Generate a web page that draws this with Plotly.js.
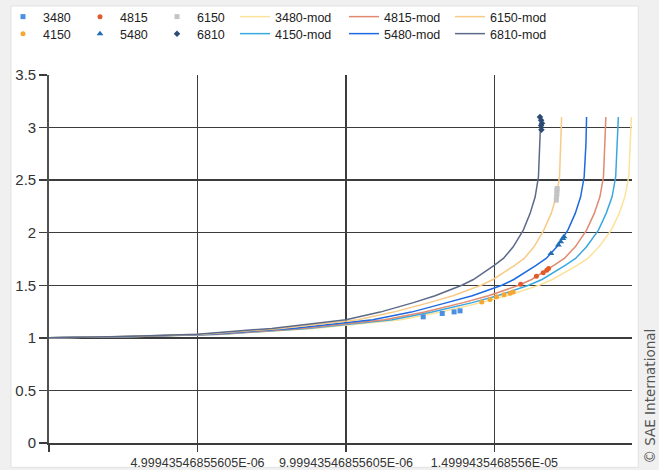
<!DOCTYPE html>
<html>
<head>
<meta charset="utf-8">
<script src="https://cdn.plot.ly/plotly-3.0.1.min.js"></script>
<style>html,body{margin:0;padding:0;background:#f0f0f0;}#chart{width:659px;height:470px;}</style>
</head>
<body>
<div id="chart"></div>
<script>
// Model curve levels (y) and the x at which each model curve reaches each level
var modLevels = [1.0, 1.012, 1.035, 1.09, 1.172, 1.245, 1.335, 1.40, 1.50, 1.555, 1.69, 1.755, 1.866, 2.025, 2.184, 2.342, 2.532, 2.85, 3.10];
var mod3480X = [0, 2.95e-6, 5.9e-6, 8.9e-6, 11.85e-6, 13.2e-6, 14.55e-6, 15.42e-6, 16.5e-6, 16.95e-6, 17.78e-6, 18.14e-6, 18.52e-6, 18.93e-6, 19.2e-6, 19.39e-6, 19.52e-6, 19.58e-6, 19.61e-6];
var mod4150X = [0, 2.9e-6, 5.8e-6, 8.7e-6, 11.55e-6, 12.9e-6, 14.25e-6, 15.1e-6, 16.15e-6, 16.6e-6, 17.38e-6, 17.73e-6, 18.1e-6, 18.5e-6, 18.76e-6, 18.96e-6, 19.08e-6, 19.14e-6, 19.17e-6];
var mod4815X = [0, 2.8e-6, 5.65e-6, 8.5e-6, 11.3e-6, 12.65e-6, 13.95e-6, 14.8e-6, 15.82e-6, 16.25e-6, 17.0e-6, 17.35e-6, 17.72e-6, 18.1e-6, 18.36e-6, 18.55e-6, 18.67e-6, 18.72e-6, 18.75e-6];
var mod5480X = [0, 2.7e-6, 5.45e-6, 8.2e-6, 10.9e-6, 12.2e-6, 13.4e-6, 14.25e-6, 15.25e-6, 15.65e-6, 16.4e-6, 16.74e-6, 17.1e-6, 17.47e-6, 17.72e-6, 17.9e-6, 18.02e-6, 18.08e-6, 18.10e-6];
var mod6150X = [0, 2.6e-6, 5.2e-6, 7.8e-6, 10.4e-6, 11.6e-6, 12.8e-6, 13.6e-6, 14.55e-6, 14.95e-6, 15.68e-6, 16.0e-6, 16.33e-6, 16.66e-6, 16.91e-6, 17.08e-6, 17.19e-6, 17.24e-6, 17.26e-6];
var mod6810X = [0, 2.5e-6, 5.0e-6, 7.5e-6, 10.0e-6, 11.15e-6, 12.27e-6, 13.0e-6, 13.9e-6, 14.29e-6, 14.99e-6, 15.30e-6, 15.63e-6, 15.97e-6, 16.20e-6, 16.37e-6, 16.48e-6, 16.53e-6, 16.56e-6];

// Measured points
var d3480X = [12.60e-6, 13.24e-6, 13.64e-6, 13.84e-6];
var d3480Y = [1.20, 1.232, 1.247, 1.257];
var d4150X = [14.57e-6, 14.85e-6, 15.07e-6, 15.32e-6, 15.52e-6, 15.63e-6];
var d4150Y = [1.342, 1.365, 1.39, 1.41, 1.425, 1.435];
var d4815X = [15.88e-6, 16.41e-6, 16.64e-6, 16.76e-6, 16.82e-6];
var d4815Y = [1.511, 1.587, 1.62, 1.644, 1.66];
var d5480X = [16.90e-6, 17.15e-6, 17.23e-6, 17.30e-6, 17.34e-6];
var d5480Y = [1.803, 1.882, 1.913, 1.946, 1.961];
var d6150X = [17.08e-6, 17.09e-6, 17.10e-6, 17.10e-6, 17.11e-6];
var d6150Y = [2.31, 2.34, 2.37, 2.40, 2.42];
var d6810X = [16.53e-6, 16.57e-6, 16.60e-6, 16.57e-6, 16.58e-6];
var d6810Y = [3.10, 3.07, 3.04, 3.02, 2.98];

var xTickVals = [0, 4.99943546855605e-6, 9.99943546855605e-6, 1.4999435468556e-5];
var xTickText = ['', '4.99943546855605E-06', '9.99943546855605E-06', '1.4999435468556E-05'];

function line(name, x, color, lg) {
  return {type: 'scatter', mode: 'lines', name: name, x: x, y: modLevels,
    line: {color: color, width: 1.5}, legend: lg, hoverinfo: 'skip'};
}
function pts(name, x, y, color, symbol, size, lg) {
  return {type: 'scatter', mode: 'markers', name: name, x: x, y: y,
    marker: {color: color, symbol: symbol, size: size}, legend: lg, hoverinfo: 'skip'};
}

var data = [
  line('3480-mod', mod3480X, '#FCE29A', 'legend7'),
  line('4150-mod', mod4150X, '#3AA8E0', 'legend8'),
  line('4815-mod', mod4815X, '#E08A70', 'legend9'),
  line('5480-mod', mod5480X, '#1E6AE0', 'legend10'),
  line('6150-mod', mod6150X, '#F7CA86', 'legend11'),
  line('6810-mod', mod6810X, '#5B6A88', 'legend12'),
  pts('3480', d3480X, d3480Y, '#4A8FE2', 'square', 5, 'legend'),
  pts('4150', d4150X, d4150Y, '#F5A733', 'circle', 5, 'legend2'),
  pts('4815', d4815X, d4815Y, '#E25A2B', 'circle', 5, 'legend3'),
  pts('5480', d5480X, d5480Y, '#1F6DB5', 'triangle-up', 6, 'legend4'),
  pts('6150', d6150X, d6150Y, '#C4C4C4', 'square', 5, 'legend5'),
  pts('6810', d6810X, d6810Y, '#2B4A75', 'diamond', 5, 'legend6')
];

function lg(px, topPx) {
  return {x: px / 659, xref: 'container', xanchor: 'left', y: 1 - topPx / 470, yref: 'container', yanchor: 'top',
    orientation: 'v', bgcolor: 'rgba(0,0,0,0)', borderwidth: 0,
    font: {family: 'Liberation Sans, Arial, sans-serif', size: 12.5, color: '#222'}};
}
var r1 = 2, r2 = 19;

var plotW = 659 - 49 - 27.3, plotH = 470 - 75 - 27.3;
var layout = {
  width: 659, height: 470,
  margin: {l: 49, r: 27.3, t: 75, b: 27.3, pad: 0, autoexpand: false},
  paper_bgcolor: '#f0f0f0',
  plot_bgcolor: '#ffffff',
  font: {family: 'Liberation Sans, Arial, sans-serif', color: '#333'},
  showlegend: true,
  legend: lg(3, r1), legend2: lg(3, r2),
  legend3: lg(80, r1), legend4: lg(80, r2),
  legend5: lg(157, r1), legend6: lg(157, r2),
  legend7: lg(235, r1), legend8: lg(235, r2),
  legend9: lg(344, r1), legend10: lg(344, r2),
  legend11: lg(450, r1), legend12: lg(450, r2),
  xaxis: {
    range: [0, 19.63e-6], tickmode: 'array', tickvals: xTickVals, ticktext: xTickText,
    showgrid: true, gridcolor: '#3c3c3c', gridwidth: 1.5,
    ticks: 'outside', ticklen: 7, tickcolor: '#3c3c3c', tickwidth: 1.5,
    showline: true, linecolor: '#3c3c3c', linewidth: 1.5,
    zeroline: false, tickfont: {size: 12.5, color: '#333'}, automargin: false
  },
  yaxis: {
    range: [0, 3.5], dtick: 0.5, tick0: 0,
    showgrid: true, gridcolor: '#3c3c3c', gridwidth: 1.5,
    ticks: 'outside', ticklen: 8, tickcolor: '#3c3c3c', tickwidth: 1.5,
    showline: true, linecolor: '#505050', linewidth: 1.8,
    zeroline: false, tickfont: {size: 15, color: '#333'}, automargin: false
  },
  shapes: [
    {type: 'rect', xref: 'paper', yref: 'paper', layer: 'below',
     x0: (11 - 49) / plotW, x1: (638 - 49) / plotW,
     y0: (442.7 - 467) / plotH, y1: (442.7 - 6) / plotH,
     fillcolor: '#ffffff', line: {color: '#e2e2e2', width: 1}}
  ],
  annotations: [
    {text: '© SAE International', xref: 'paper', yref: 'paper',
     x: (650 - 49) / plotW, y: (442.7 - 396) / plotH, xanchor: 'center', yanchor: 'middle',
     textangle: -90, showarrow: false, font: {family: 'DejaVu Sans, sans-serif', size: 13.5, color: '#555'}}
  ]
};

Plotly.newPlot('chart', data, layout, {staticPlot: true, displayModeBar: false});
</script>
</body>
</html>
